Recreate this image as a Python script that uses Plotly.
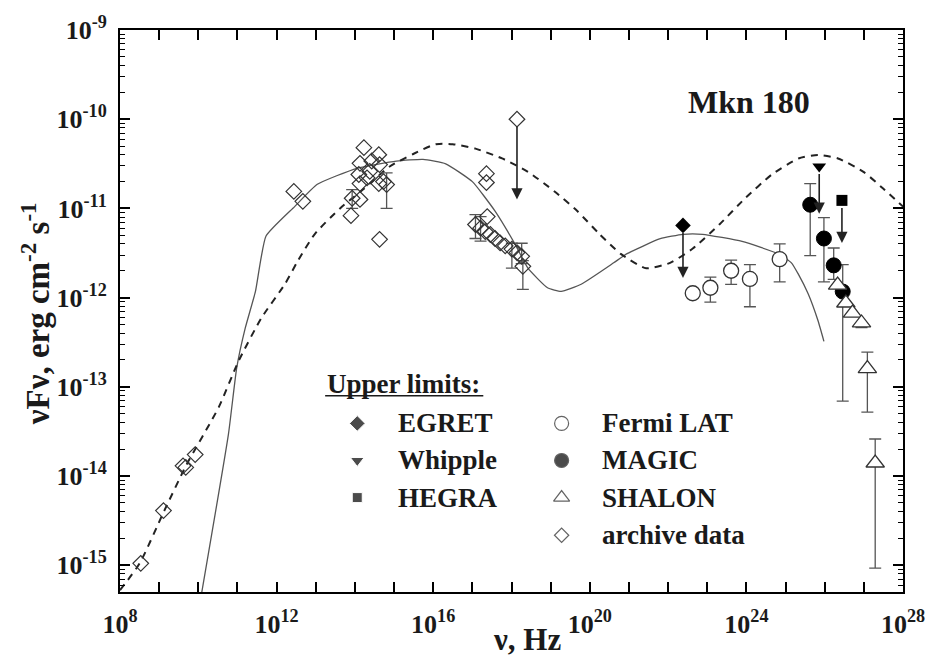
import numpy as np
import plotly.graph_objects as go

# ---------------- data (log10 of frequency in Hz, flux in erg cm^-2 s^-1) ----------------
# archive data (open diamonds)
arch_lognu = [8.53, 9.11, 9.61, 9.68, 9.92,
              12.44, 12.67, 13.90,
              14.23, 14.13, 14.61, 14.63, 14.10, 14.38, 14.13, 14.61, 14.73,
              14.13, 14.31, 14.81, 14.43, 14.63, 13.93,
              17.36, 17.36, 17.38, 17.08, 17.21, 17.33, 17.46, 17.58, 17.71,
              17.84, 18.01, 18.14, 18.26, 18.29]
arch_flux = [1.05e-15, 4.1e-15, 1.3e-14, 1.25e-14, 1.74e-14,
             1.55e-11, 1.2e-11, 8.3e-12,
             4.8e-11, 3.2e-11, 4.0e-11, 3.1e-11, 2.4e-11, 2.6e-11, 1.9e-11, 1.9e-11, 2.0e-11,
             1.26e-11, 2.2e-11, 1.85e-11, 3.4e-11, 4.5e-12, 1.3e-11,
             2.45e-11, 1.95e-11, 8.1e-12, 6.6e-12, 6.0e-12, 5.5e-12, 5.1e-12, 4.6e-12, 4.1e-12,
             3.8e-12, 3.5e-12, 3.2e-12, 2.9e-12, 2.24e-12]
# archive points with error bars: log nu, flux, upper, lower
arch_err_lognu = [13.93, 14.81, 17.08, 17.21, 18.01, 18.26, 18.29]
arch_err_flux = [1.3e-11, 1.85e-11, 6.6e-12, 6.0e-12, 3.5e-12, 2.9e-12, 2.24e-12]
arch_err_hi = [1.62e-11, 2.5e-11, 8.5e-12, 8.1e-12, 4.07e-12, 4.07e-12, 2.6e-12]
arch_err_lo = [1.0e-11, 1.0e-11, 4.6e-12, 4.3e-12, 2.14e-12, 2.4e-12, 1.24e-12]

# archive upper limit (diamond with arrow)
arch_ul_lognu = [18.14]
arch_ul_flux = [1.0e-10]
arch_ul_tip = [1.26e-11]

# Fermi LAT (open circles)
fermi_lognu = [22.63, 23.08, 23.61, 24.09, 24.85]
fermi_flux = [1.12e-12, 1.29e-12, 2.0e-12, 1.62e-12, 2.7e-12]
fermi_hi = [None, 1.7e-12, 2.63e-12, 2.34e-12, 4.0e-12]
fermi_lo = [None, 8.9e-13, 1.41e-12, 7.9e-13, 1.5e-12]

# MAGIC (filled circles)
magic_lognu = [25.63, 25.98, 26.23, 26.46]
magic_flux = [1.1e-11, 4.6e-12, 2.3e-12, 1.17e-12]
magic_hi = [1.9e-11, 7.9e-12, 3.6e-12, 2.34e-12]
magic_lo = [2.95e-12, 1.5e-12, 1.6e-12, 6.9e-14]

# SHALON (open triangles)
shalon_lognu = [26.33, 26.54, 26.71, 26.94, 27.09, 27.29]
shalon_flux = [1.38e-12, 8.7e-13, 6.7e-13, 5.2e-13, 1.6e-13, 1.4e-14]
shalon_hi = [None, None, None, None, 2.45e-13, 2.6e-14]
shalon_lo = [None, None, None, 4.6e-13, 5.2e-14, 9.3e-16]

# Upper limits: EGRET, Whipple, HEGRA
egret_lognu, egret_flux, egret_tip = [22.38], [6.45e-12], [1.66e-12]
whipple_lognu, whipple_flux, whipple_tip = [25.86], [2.95e-11], [8.7e-12]
hegra_lognu, hegra_flux, hegra_tip = [26.44], [1.23e-11], [4.1e-12]

# model curves
solid_lognu = [10.09, 10.77, 10.98, 11.20, 11.46, 11.73, 12.46, 13.04, 14.05, 15.06, 15.74,
               16.32, 17.00, 17.58, 18.09, 18.42, 18.92, 19.27, 19.78, 20.61, 20.94, 21.80,
               22.38, 22.88, 23.89, 24.82, 25.15, 25.33, 25.58, 25.83, 25.98]
solid_logf = [-15.30, -13.53, -12.79, -12.34, -11.93, -11.31, -10.98, -10.73, -10.55, -10.47, -10.45,
              -10.50, -10.70, -11.03, -11.40, -11.67, -11.89, -11.93, -11.85, -11.61, -11.51, -11.34,
              -11.29, -11.29, -11.37, -11.51, -11.61, -11.74, -11.96, -12.26, -12.49]
dashed_lognu = [8.00, 8.50, 9.13, 9.69, 10.52, 11.03, 11.61, 12.21, 12.54, 12.97, 13.62, 14.23,
                14.89, 15.49, 16.07, 16.50, 17.08, 17.76, 18.42, 19.10, 19.68, 20.23, 20.79,
                21.44, 22.05, 22.63, 23.31, 23.96, 24.65, 25.33, 25.83, 26.34, 26.99, 27.50, 28.00]
dashed_logf = [-15.28, -14.98, -14.39, -13.88, -13.23, -12.71, -12.23, -11.85, -11.59, -11.29, -11.00,
               -10.78, -10.53, -10.39, -10.28, -10.28, -10.33, -10.44, -10.59, -10.81, -11.03, -11.28,
               -11.51, -11.67, -11.61, -11.45, -11.18, -10.89, -10.62, -10.44, -10.40, -10.44,
               -10.59, -10.78, -10.98]

x_tick_exp = list(range(8, 29))
x_label_exp = [8, 12, 16, 20, 24, 28]
y_tick_exp = list(range(-15, -8))

# ---------------- figure ----------------
FONT = "Liberation Serif"
INK = "#1a1a1a"
GRAY = "#555555"

def nu(l):
    return [10 ** v for v in l]

def errs(f, hi, lo):
    plus = [(h - v) if h is not None else 0 for v, h in zip(f, hi)]
    minus = [(v - l) if l is not None else 0 for v, l in zip(f, lo)]
    return plus, minus

fig = go.Figure()

# models
fig.add_trace(go.Scatter(x=nu(solid_lognu), y=[10 ** v for v in solid_logf], mode="lines",
                         line=dict(color="#555555", width=1.3, shape="spline", smoothing=0.45),
                         showlegend=False))
fig.add_trace(go.Scatter(x=nu(dashed_lognu), y=[10 ** v for v in dashed_logf], mode="lines",
                         line=dict(color="#222222", width=2, dash="7px,6px", shape="spline", smoothing=0.6),
                         showlegend=False))

# error bar only traces
def err_trace(lx, f, hi, lo):
    idx = [i for i in range(len(f)) if hi[i] is not None or lo[i] is not None]
    ff = [f[i] for i in idx]
    p, m = errs(ff, [hi[i] for i in idx], [lo[i] for i in idx])
    fig.add_trace(go.Scatter(x=nu([lx[i] for i in idx]), y=ff, mode="markers",
                             marker=dict(size=1, color="rgba(0,0,0,0)"),
                             error_y=dict(type="data", symmetric=False, array=p, arrayminus=m,
                                          color=GRAY, thickness=1.3, width=6),
                             showlegend=False, hoverinfo="skip"))

err_trace(arch_err_lognu, arch_err_flux, arch_err_hi, arch_err_lo)
err_trace(fermi_lognu, fermi_flux, fermi_hi, fermi_lo)
err_trace(magic_lognu, magic_flux, magic_hi, magic_lo)
err_trace(shalon_lognu, shalon_flux, shalon_hi, shalon_lo)

# markers
fig.add_trace(go.Scatter(x=nu(arch_lognu + arch_ul_lognu), y=arch_flux + arch_ul_flux, mode="markers",
                         marker=dict(symbol="diamond-open", size=12, color="#333333", line=dict(width=1.2)),
                         showlegend=False))
fig.add_trace(go.Scatter(x=nu(fermi_lognu), y=fermi_flux, mode="markers",
                         marker=dict(symbol="circle", size=15, color="white", line=dict(color="#333333", width=1.3)),
                         showlegend=False))
fig.add_trace(go.Scatter(x=nu(magic_lognu), y=magic_flux, mode="markers",
                         marker=dict(symbol="circle", size=15, color="black", line=dict(color="black", width=1)),
                         showlegend=False))
fig.add_trace(go.Scatter(x=nu(shalon_lognu), y=shalon_flux, mode="markers",
                         marker=dict(symbol="triangle-up", size=16, color="white", line=dict(color="#333333", width=1.3)),
                         showlegend=False))
fig.add_trace(go.Scatter(x=nu(egret_lognu), y=egret_flux, mode="markers",
                         marker=dict(symbol="diamond", size=12, color="black"), showlegend=False))
fig.add_trace(go.Scatter(x=nu(whipple_lognu), y=whipple_flux, mode="markers",
                         marker=dict(symbol="triangle-down", size=12, color="black"), showlegend=False))
fig.add_trace(go.Scatter(x=nu(hegra_lognu), y=hegra_flux, mode="markers",
                         marker=dict(symbol="square", size=11, color="black"), showlegend=False))

annotations = []
for lx, f, t in [(arch_ul_lognu, arch_ul_flux, arch_ul_tip), (egret_lognu, egret_flux, egret_tip),
                 (whipple_lognu, whipple_flux, whipple_tip), (hegra_lognu, hegra_flux, hegra_tip)]:
    for a, b, c in zip(lx, f, t):
        annotations.append(dict(x=a, y=np.log10(c), ax=a, ay=np.log10(b), xref="x", yref="y",
                                axref="x", ayref="y", text="", showarrow=True, arrowhead=2,
                                arrowsize=1.4, arrowwidth=1.6, arrowcolor="#222222", startstandoff=6))

# legend (drawn on hidden overlay axes)
leg_x1, leg_x2 = 0.303, 0.564
leg_rows = [0.300, 0.234, 0.168, 0.101]
fig.add_trace(go.Scatter(x=[leg_x1] * 3, y=leg_rows[:3], xaxis="x2", yaxis="y2", mode="markers",
                         marker=dict(symbol=["diamond", "triangle-down", "square"], size=[12, 12, 10], color="black"),
                         showlegend=False, hoverinfo="skip"))
fig.add_trace(go.Scatter(x=[leg_x2] * 4, y=leg_rows, xaxis="x2", yaxis="y2", mode="markers",
                         marker=dict(symbol=["circle", "circle", "triangle-up", "diamond"], size=[14, 14, 14, 11],
                                     color=["white", "black", "white", "white"],
                                     line=dict(color="#222222", width=1.2)),
                         showlegend=False, hoverinfo="skip"))
leg_font = dict(family=FONT, size=27, color=INK, weight="bold")
for txt, yy in zip(["EGRET", "Whipple", "HEGRA"], leg_rows[:3]):
    annotations.append(dict(x=0.353, y=yy, xref="paper", yref="paper", text=txt, showarrow=False,
                            xanchor="left", yanchor="middle", font=leg_font))
for txt, yy in zip(["Fermi LAT", "MAGIC", "SHALON", "archive data"], leg_rows):
    annotations.append(dict(x=0.613, y=yy, xref="paper", yref="paper", text=txt, showarrow=False,
                            xanchor="left", yanchor="middle", font=leg_font))
annotations.append(dict(x=0.262, y=0.370, xref="paper", yref="paper", text="Upper limits:", showarrow=False,
                        xanchor="left", yanchor="middle", font=leg_font))
annotations.append(dict(x=0.803, y=0.872, xref="paper", yref="paper", text="Mkn 180", showarrow=False,
                        xanchor="center", yanchor="middle", font=dict(family=FONT, size=32, color=INK, weight="bold")))
annotations.append(dict(x=0.52, y=-0.085, xref="paper", yref="paper", text="ν, Hz", showarrow=False,
                        xanchor="center", yanchor="middle", font=dict(family=FONT, size=31, color=INK, weight="bold")))
annotations.append(dict(x=-0.108, y=0.495, xref="paper", yref="paper", text="νFν, erg cm<sup>-2</sup> s<sup>-1</sup>",
                        showarrow=False, textangle=-90, xanchor="center", yanchor="middle",
                        font=dict(family=FONT, size=33, color=INK, weight="bold")))

shapes = [dict(type="line", xref="paper", yref="paper", x0=0.262, x1=0.464, y0=0.349, y1=0.349,
               line=dict(color=INK, width=1.5))]

y_minor = [k * 10.0 ** n for n in range(-16, -9) for k in range(2, 10)]

fig.update_layout(
    width=937, height=663, margin=dict(l=120, r=24, t=28, b=71),
    paper_bgcolor="white", plot_bgcolor="white",
    annotations=annotations, shapes=shapes, showlegend=False,
    xaxis=dict(type="log", range=[8, 28], tickmode="array",
               tickvals=[10.0 ** e for e in x_tick_exp],
               ticktext=[("10<sup>%d</sup>" % e) if e in x_label_exp else "" for e in x_tick_exp],
               ticks="inside", ticklen=10, tickwidth=1.5, tickcolor="black",
               showline=True, linecolor="black", linewidth=2, mirror="ticks",
               showgrid=False, zeroline=False, ticklabelstandoff=8,
               tickfont=dict(family=FONT, size=26, color=INK, weight="bold")),
    yaxis=dict(type="log", range=[-15.3, -9], tickmode="array",
               tickvals=[10.0 ** e for e in y_tick_exp],
               ticktext=["10<sup>%d</sup>" % e for e in y_tick_exp],
               ticks="inside", ticklen=10, tickwidth=1.5, tickcolor="black",
               minor=dict(tickmode="array", tickvals=y_minor, ticks="inside", ticklen=5,
                          tickwidth=1.2, tickcolor="black", showgrid=False),
               showline=True, linecolor="black", linewidth=2, mirror="ticks",
               showgrid=False, zeroline=False, ticklabelstandoff=6,
               tickfont=dict(family=FONT, size=26, color=INK, weight="bold")),
    xaxis2=dict(overlaying="x", range=[0, 1], visible=False, fixedrange=True),
    yaxis2=dict(overlaying="y", range=[0, 1], visible=False, fixedrange=True),
)

fig.write_html("out.html")
